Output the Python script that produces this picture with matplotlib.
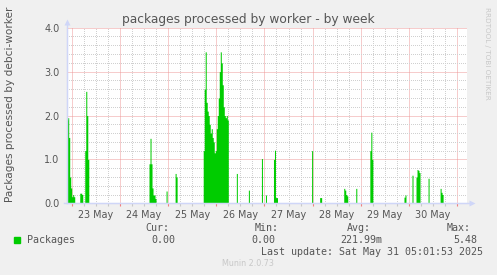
import numpy as np
import matplotlib
matplotlib.use('Agg')
import matplotlib.pyplot as plt
from matplotlib.ticker import MultipleLocator, FuncFormatter

# ---- data: 30-minute samples, hours since 23 May 00:00 (zero elsewhere) ----
sample_hours = [
    -2.5, -2.0, -1.5, -1.0, -0.5, 0.0, 0.5, 1.0,
    4.0, 4.5, 5.0,
    6.5, 7.0, 7.5, 8.0,
    38.5, 39.0, 39.5, 40.0, 40.5, 41.0, 41.5,
    47.0,
    51.5, 52.0,
    65.5, 66.0, 66.5, 67.0, 67.5, 68.0, 68.5, 69.0, 69.5, 70.0, 70.5, 71.0, 71.5,
    72.0, 72.5, 73.0, 73.5, 74.0, 74.5, 75.0, 75.5, 76.0, 76.5, 77.0, 77.5,
    82.0,
    88.0,
    94.5,
    96.5,
    100.5, 101.0, 101.5, 102.0,
    119.5,
    123.5, 124.0,
    135.5, 136.0, 136.5, 137.0,
    141.5,
    148.5, 149.0, 149.5,
    165.5, 166.0,
    169.5,
    171.5, 172.0, 172.5, 173.0,
    177.5,
    183.5, 184.0, 184.5,
]
sample_values = [
    1.9, 1.95, 1.5, 0.6, 0.35, 0.15, 0.2, 0.15,
    0.23, 0.23, 0.2,
    1.2, 2.55, 2.0, 1.0,
    0.9, 1.48, 0.9, 0.35, 0.19, 0.19, 0.11,
    0.28,
    0.68, 0.6,
    1.2, 2.6, 3.45, 2.3, 2.1, 2.0, 1.8, 1.6, 1.7, 1.5, 1.4, 1.15, 1.2,
    1.7, 2.0, 2.4, 3.0, 3.45, 3.2, 2.7, 2.2, 2.0, 1.95, 2.0, 1.9,
    0.68,
    0.30,
    1.02,
    0.19,
    1.0, 1.21, 0.13, 0.13,
    1.2,
    0.13, 0.13,
    0.34, 0.30, 0.2, 0.17,
    0.34,
    1.2, 1.62, 1.0,
    0.14, 0.19,
    0.64,
    0.6, 0.77, 0.75, 0.7,
    0.57,
    0.34, 0.25, 0.2,
]
day_labels = ['23 May', '24 May', '25 May', '26 May', '27 May', '28 May', '29 May', '30 May']
x_start, x_end = -2.35, 196.9

legend_name = 'Packages'
stat_cur, stat_min, stat_avg, stat_max = '0.00', '0.00', '221.99m', '5.48'

# ---- build series ----
t = np.arange(-3.0, 197.5, 0.5)
v = np.zeros_like(t)
for h, val in zip(sample_hours, sample_values):
    v[int(round((h + 3.0) / 0.5))] = val

W, H = 497, 275
fig = plt.figure(figsize=(W / 100, H / 100), dpi=100, facecolor='#F0F0F0')
ax = fig.add_axes([67 / W, 1 - 203.3 / H, 400 / W, 175.6 / H])
ax.set_facecolor('white')

green = '#00CC00'
ax.fill_between(t, v, step='post', color=green, linewidth=0, zorder=3)

ax.set_xlim(x_start, x_end)
ax.set_ylim(0, 4.0)

# grid
ax.xaxis.set_major_locator(MultipleLocator(24))
ax.xaxis.set_minor_locator(MultipleLocator(6))
ax.yaxis.set_major_locator(MultipleLocator(1.0))
ax.yaxis.set_minor_locator(MultipleLocator(0.2))
ax.grid(which='minor', color='#D0D0D0', linestyle=(0, (0.5, 1.5)), linewidth=0.72, zorder=1,
        antialiased=False)
ax.grid(which='major', color='#EE9A9A', linestyle=(0, (1, 1)), linewidth=0.72, zorder=2)
ax.set_axisbelow(True)

def xfmt(x, pos):
    h = int(round(x))
    if h % 24 == 12:
        idx = (h - 12) // 24
        if 0 <= idx < len(day_labels):
            return day_labels[idx]
    return ''

ax.xaxis.set_major_formatter(FuncFormatter(lambda x, p: ''))
ax.xaxis.set_minor_formatter(FuncFormatter(xfmt))
ax.tick_params(axis='x', which='major', length=2, color='#F08080', width=0.8, direction='out')
ax.tick_params(axis='x', which='minor', length=2, color='#C8C8C8', width=0.8, direction='out',
               labelsize=6.9, labelcolor='#555555', pad=2.5)
ax.yaxis.set_major_formatter(FuncFormatter(lambda y, p: f'{y:.1f}'))
ax.tick_params(axis='y', which='major', length=0, labelsize=6.9, labelcolor='#555555', pad=5.5)
ax.tick_params(axis='y', which='minor', length=0)

for s in ['top', 'right']:
    ax.spines[s].set_visible(False)
axis_col = '#CFD6F8'
ax.spines['left'].set_color(axis_col)
ax.spines['bottom'].set_color(axis_col)
ax.spines['left'].set_bounds(0, 4.0)
ax.spines['left'].set_zorder(4)
ax.spines['bottom'].set_zorder(4)
# axis arrows
ax.plot([-3 / 400, 1.0 + 4 / 400], [0, 0], color=axis_col, lw=1, transform=ax.transAxes, clip_on=False, zorder=4)
ax.plot([0, 0], [0, 1 + 5 / 175.6], color=axis_col, lw=1, transform=ax.transAxes, clip_on=False, zorder=4)
ax.plot([1.0 + 5 / 400], [0], marker='>', ms=5, color=axis_col, mec='none', transform=ax.transAxes, clip_on=False, zorder=4)
ax.plot([0], [1 + 6 / 175.6], marker='^', ms=5, color=axis_col, mec='none', transform=ax.transAxes, clip_on=False, zorder=4)

# title and labels
fig.text(248 / W, 1 - 19 / H, 'packages processed by worker - by week', ha='center', va='center',
         fontsize=8.8, color='#555555')
fig.text(10 / W, 1 - 104 / H, 'Packages processed by debci-worker', rotation=90, ha='center', va='center',
         fontsize=7.6, color='#555555')
fig.text(487.5 / W, 1 - 53 / H, 'RRDTOOL / TOBI OETIKER', rotation=-90, ha='center', va='center',
         fontsize=5.2, color='#C8C8C8')

mono = 'DejaVu Sans Mono'
fs = 7.2
tc = '#555555'
def ftext(x, y, s, **kw):
    fig.text(x / W, 1 - y / H, s, family=mono, fontsize=fs, color=tc, va='center', **kw)

ftext(145.7, 227.7, 'Cur:')
ftext(255, 227.7, 'Min:')
ftext(346.7, 227.7, 'Avg:')
ftext(446.7, 227.7, 'Max:')
ftext(26.7, 239.7, legend_name)
ftext(151.7, 239.7, stat_cur)
ftext(251.7, 239.7, stat_min)
ftext(340, 239.7, stat_avg)
ftext(453.3, 239.7, stat_max)
ftext(483, 251.7, 'Last update: Sat May 31 05:01:53 2025', ha='right')
fig.text(248 / W, 1 - 263.7 / H, 'Munin 2.0.73', ha='center', va='center', fontsize=5.8, color='#C8C8C8')

fig.patches.append(plt.Rectangle((14 / W, 1 - 242.7 / H), 6 / W, 5.4 / H, transform=fig.transFigure,
                                 color=green, figure=fig))

fig.savefig('out.png', dpi=100, facecolor=fig.get_facecolor())
